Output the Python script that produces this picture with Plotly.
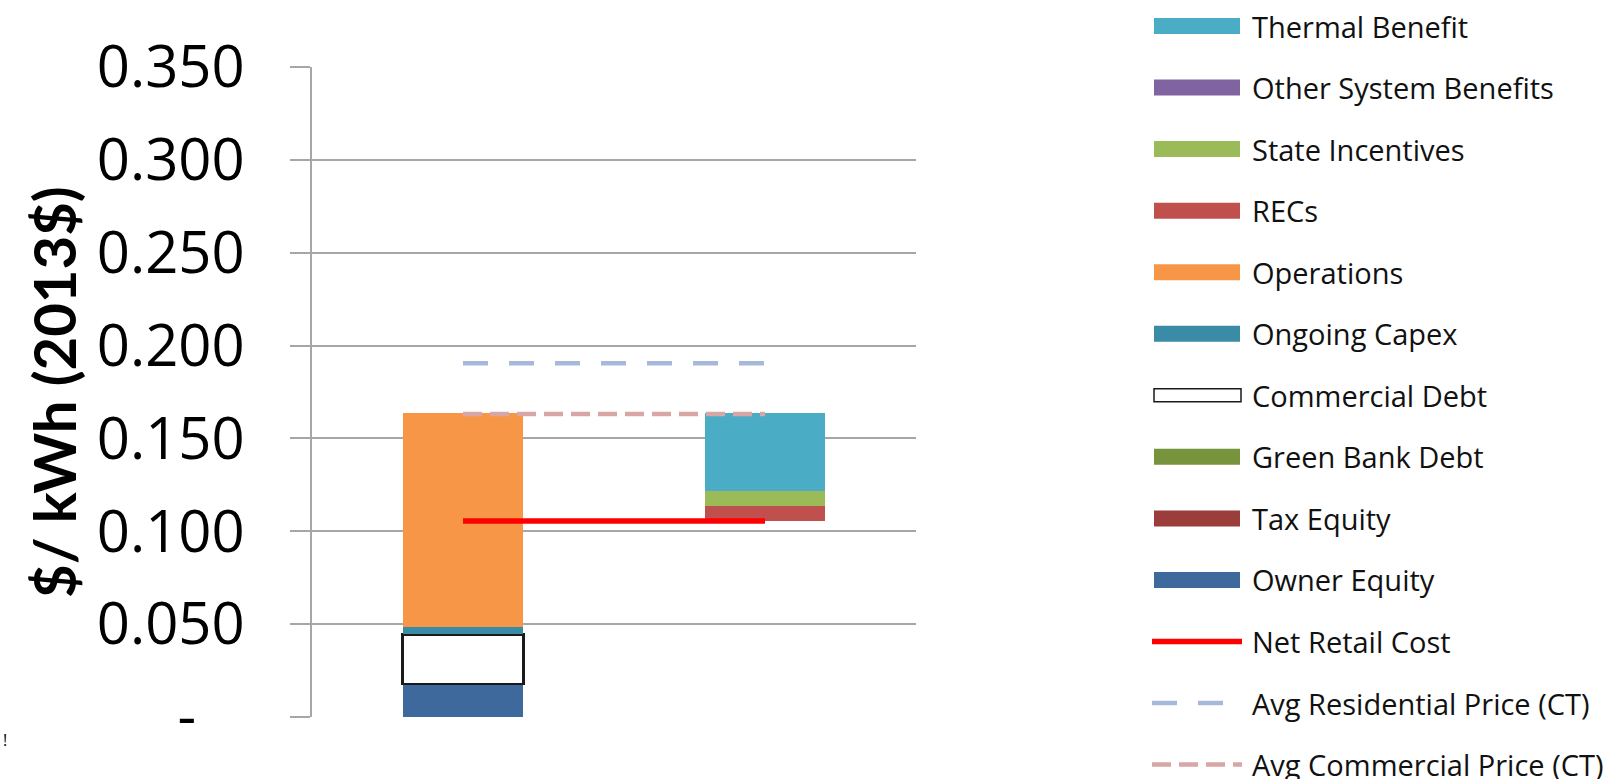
import plotly.graph_objects as go

# ---------------- data ----------------
categories = ["Costs", "Benefits"]

owner_equity = [0.0178, 0.0]
tax_equity = [0.0, 0.0]
green_bank_debt = [0.0, 0.0]
commercial_debt = [0.0267, 0.0]
ongoing_capex = [0.0038, 0.0]
operations = [0.1156, 0.0]
recs = [0.0, 0.0080]
state_incentives = [0.0, 0.0079]
other_system_benefits = [0.0, 0.0]
thermal_benefit = [0.0, 0.0424]

net_retail_cost = 0.1056
avg_residential_price = 0.1905
avg_commercial_price = 0.1632

y_tick_vals = [0, 0.05, 0.10, 0.15, 0.20, 0.25, 0.30, 0.35]
y_tick_text = ["-\u2007\u2008", "0.050", "0.100", "0.150", "0.200", "0.250", "0.300", "0.350"]

y_title = "$/ kWh (2013$)"

legend_labels = ["Thermal Benefit", "Other System Benefits", "State Incentives", "RECs",
                 "Operations", "Ongoing Capex", "Commercial Debt", "Green Bank Debt",
                 "Tax Equity", "Owner Equity", "Net Retail Cost",
                 "Avg Residential Price (CT)", "Avg Commercial Price (CT)"]

# ---------------- styles ----------------
colors = {
    "Owner Equity": "#3E699D",
    "Tax Equity": "#9A3D3B",
    "Green Bank Debt": "#77933C",
    "Commercial Debt": "#FFFFFF",
    "Ongoing Capex": "#3A8BA5",
    "Operations": "#F79646",
    "RECs": "#C0504D",
    "State Incentives": "#9BBB59",
    "Other System Benefits": "#8064A2",
    "Thermal Benefit": "#4BACC6",
    "Net Retail Cost": "#FF0000",
    "Avg Residential Price (CT)": "#A7B9DB",
    "Avg Commercial Price (CT)": "#D9A6A6",
}
FONT = "Open Sans"
GRID = "#A6A6A6"

fig = go.Figure()

# invisible spacer so that the benefit bar floats on the net retail cost
spacer = [0.0, net_retail_cost]
fig.add_trace(go.Bar(x=categories, y=spacer,
                     marker=dict(color="rgba(0,0,0,0)", line=dict(width=0, color="rgba(0,0,0,0)")),
                     showlegend=False, hoverinfo="skip"))

stack = [
    ("Owner Equity", owner_equity),
    ("Tax Equity", tax_equity),
    ("Green Bank Debt", green_bank_debt),
    ("Commercial Debt", commercial_debt),
    ("Ongoing Capex", ongoing_capex),
    ("Operations", operations),
    ("RECs", recs),
    ("State Incentives", state_incentives),
    ("Other System Benefits", other_system_benefits),
    ("Thermal Benefit", thermal_benefit),
]
for name, vals in stack:
    if name == "Commercial Debt":
        widths = [2.5 if v > 0 else 0 for v in vals]
        mk = dict(color="#FFFFFF", line=dict(color="#1A1A1A", width=widths))
    else:
        mk = dict(color=colors[name], line=dict(width=0))
    fig.add_trace(go.Bar(x=categories, y=vals, name=name, marker=mk, showlegend=False))

fig.add_trace(go.Scatter(x=categories, y=[avg_residential_price] * 2, mode="lines",
                         line=dict(color=colors["Avg Residential Price (CT)"], width=4.5, dash="25px,21px"),
                         showlegend=False, name="Avg Residential Price (CT)"))
fig.add_trace(go.Scatter(x=categories, y=[avg_commercial_price] * 2, mode="lines",
                         line=dict(color=colors["Avg Commercial Price (CT)"], width=4.5, dash="19px,8px"),
                         showlegend=False, name="Avg Commercial Price (CT)"))
fig.add_trace(go.Scatter(x=categories, y=[net_retail_cost] * 2, mode="lines",
                         line=dict(color=colors["Net Retail Cost"], width=5.5),
                         showlegend=False, name="Net Retail Cost"))

# ---------------- manual legend ----------------
L, R, T, B = 312, 702, 67, 62
W, H = 1618 - L - R, 779 - T - B


def px_x(p):
    return (p - L) / W


def px_y(p):
    return (779 - B - p) / H


shapes = []
annotations = []
for i, lab in enumerate(legend_labels):
    yc = 26 + 61.55 * i
    if lab == "Net Retail Cost":
        shapes.append(dict(type="line", xref="paper", yref="paper", x0=px_x(1152), x1=px_x(1242),
                           y0=px_y(yc), y1=px_y(yc), line=dict(color=colors[lab], width=5.5)))
    elif lab == "Avg Residential Price (CT)":
        shapes.append(dict(type="line", xref="paper", yref="paper", x0=px_x(1152), x1=px_x(1224),
                           y0=px_y(yc), y1=px_y(yc),
                           line=dict(color=colors[lab], width=4.5, dash="25px,21px")))
    elif lab == "Avg Commercial Price (CT)":
        shapes.append(dict(type="line", xref="paper", yref="paper", x0=px_x(1152), x1=px_x(1242),
                           y0=px_y(yc), y1=px_y(yc),
                           line=dict(color=colors[lab], width=4.5, dash="19px,8px")))
    elif lab == "Commercial Debt":
        shapes.append(dict(type="rect", xref="paper", yref="paper", x0=px_x(1154), x1=px_x(1241),
                           y0=px_y(yc - 6.5), y1=px_y(yc + 6.5), fillcolor="#FFFFFF",
                           line=dict(color="#1A1A1A", width=1.5)))
    else:
        shapes.append(dict(type="rect", xref="paper", yref="paper", x0=px_x(1154), x1=px_x(1240),
                           y0=px_y(yc - 8), y1=px_y(yc + 8), fillcolor=colors[lab],
                           line=dict(width=0)))
    annotations.append(dict(xref="paper", yref="paper", x=px_x(1250), y=px_y(yc), text=lab,
                            showarrow=False, xanchor="left", yanchor="middle",
                            font=dict(family=FONT, size=29, color="#111111")))

# y-axis title
annotations.append(dict(xref="paper", yref="paper", x=px_x(53), y=px_y(392),
                        text="<b>" + y_title + "</b>", textangle=-90, showarrow=False,
                        xanchor="center", yanchor="middle",
                        font=dict(family="Lato", size=58, color="#000000")))

annotations.append(dict(xref="paper", yref="paper", x=px_x(1), y=px_y(740), text="!",
                        showarrow=False, xanchor="left", yanchor="middle",
                        font=dict(family=FONT, size=16, color="#000000")))

fig.update_layout(
    width=1618, height=779,
    margin=dict(l=L, r=R, t=T, b=B, pad=0),
    barmode="stack", bargap=0.6,
    paper_bgcolor="white", plot_bgcolor="white",
    font=dict(family=FONT, color="#000000"),
    shapes=shapes, annotations=annotations,
    showlegend=False,
    xaxis=dict(showticklabels=False, ticks="", showgrid=False, zeroline=False,
               showline=False, range=[-0.5, 1.5]),
    yaxis=dict(range=[0, 0.35], tickvals=y_tick_vals, ticktext=y_tick_text,
               showgrid=True, gridcolor=GRID, gridwidth=1.5, zeroline=False,
               showline=True, linecolor=GRID, linewidth=1.5,
               ticks="outside", ticklen=20, tickcolor=GRID, tickwidth=1.5,
               ticklabelstandoff=34,
               tickfont=dict(family=FONT, size=58, color="#000000"),
               automargin=False),
)

fig.write_html("out.html")
